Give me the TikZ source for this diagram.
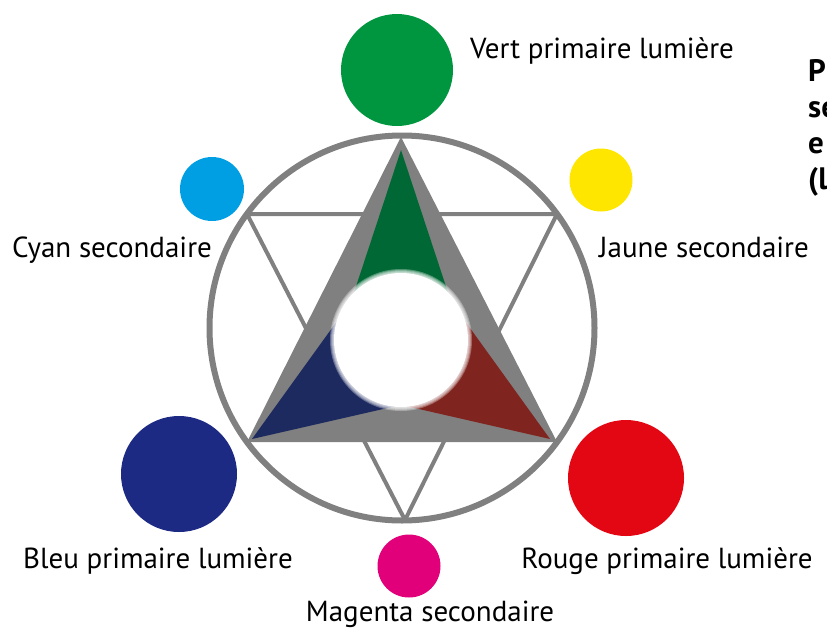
\documentclass[tikz,border=0pt]{standalone}
\usepackage{fontspec}
\setmainfont{PT Sans}
\definecolor{ringgray}{RGB}{128,128,128}
\definecolor{trigreen}{RGB}{0,104,52}
\definecolor{triblue}{RGB}{29,42,96}
\definecolor{trired}{RGB}{128,36,31}
\definecolor{dotgreen}{RGB}{0,150,63}
\definecolor{dotcyan}{RGB}{0,159,227}
\definecolor{dotyellow}{RGB}{255,230,0}
\definecolor{dotblue}{RGB}{29,42,132}
\definecolor{dotred}{RGB}{227,6,19}
\definecolor{dotmagenta}{RGB}{226,0,122}
\begin{document}
\begin{tikzpicture}[x=1pt,y=-1pt,
  lbl/.style={anchor=base, font=\fontsize{29}{34}\selectfont, text=black, inner sep=0pt},
  titleline/.style={anchor=base west, font=\bfseries\fontsize{31}{36}\selectfont, text=black, inner sep=0pt},
  dot/.style={circle, inner sep=0pt, draw=none},
  thinline/.style={draw=ringgray, line width=4pt},
]
\useasboundingbox (0,0) rectangle (827,635);
\begin{scope}
\clip (0,0) rectangle (827,635);
% ring
\draw[ringgray, line width=6pt] (402,328) circle[radius=192.5pt];
% inverted triangle (thin lines)
\coordinate (D) at (247,214);
\coordinate (E) at (557,214);
\coordinate (F) at (405,520);
\draw[thinline, line join=round] (D) -- (E) -- (F) -- cycle;
% big gray triangle
\coordinate (A) at (401,137);
\coordinate (B) at (247,442);
\coordinate (C) at (557,442);
\fill[ringgray] (A) -- (B) -- (C) -- cycle;
% colored inner triangles
\fill[trigreen] (401,150) -- (341,332) -- (461,332) -- cycle;
\fill[triblue] (252,439) -- (345,310) -- (405,404) -- cycle;
\fill[trired] (550,439) -- (457,310) -- (397,404) -- cycle;
% white blurred centre
\foreach \r in {71,70,69,68} {\fill[white, opacity=0.3] (401,340) circle[radius=\r pt];}
\fill[white] (401,340) circle[radius=67pt];
% outer dots
\node[dot, fill=dotgreen, minimum size=112pt] (vert) at (397,70) {};
\node[dot, fill=dotcyan, minimum size=64pt] (cyan) at (212,189) {};
\node[dot, fill=dotyellow, minimum size=63pt] (jaune) at (601,180) {};
\node[dot, fill=dotblue, minimum size=116pt] (bleu) at (179,474) {};
\node[dot, fill=dotred, minimum size=116pt] (rouge) at (626,478) {};
\node[dot, fill=dotmagenta, minimum size=63pt] (magenta) at (409,566) {};
% labels
\node[lbl] (tvert) at (602,58) {Vert primaire lumière};
\node[lbl] (tcyan) at (112,257) {Cyan secondaire};
\node[lbl] (tjaune) at (704,257) {Jaune secondaire};
\node[lbl] (tbleu) at (158,568) {Bleu primaire lumière};
\node[lbl] (trouge) at (667,568) {Rouge primaire lumière};
\node[lbl] (tmagenta) at (430,621) {Magenta secondaire};
% cut-off bold title
\node[titleline] (t1) at (808,81) {P};
\node[titleline] (t2) at (808,117) {se};
\node[titleline] (t3) at (808,153) {e};
\node[titleline] (t4) at (808,189) {(l};
\end{scope}
\end{tikzpicture}
\end{document}
